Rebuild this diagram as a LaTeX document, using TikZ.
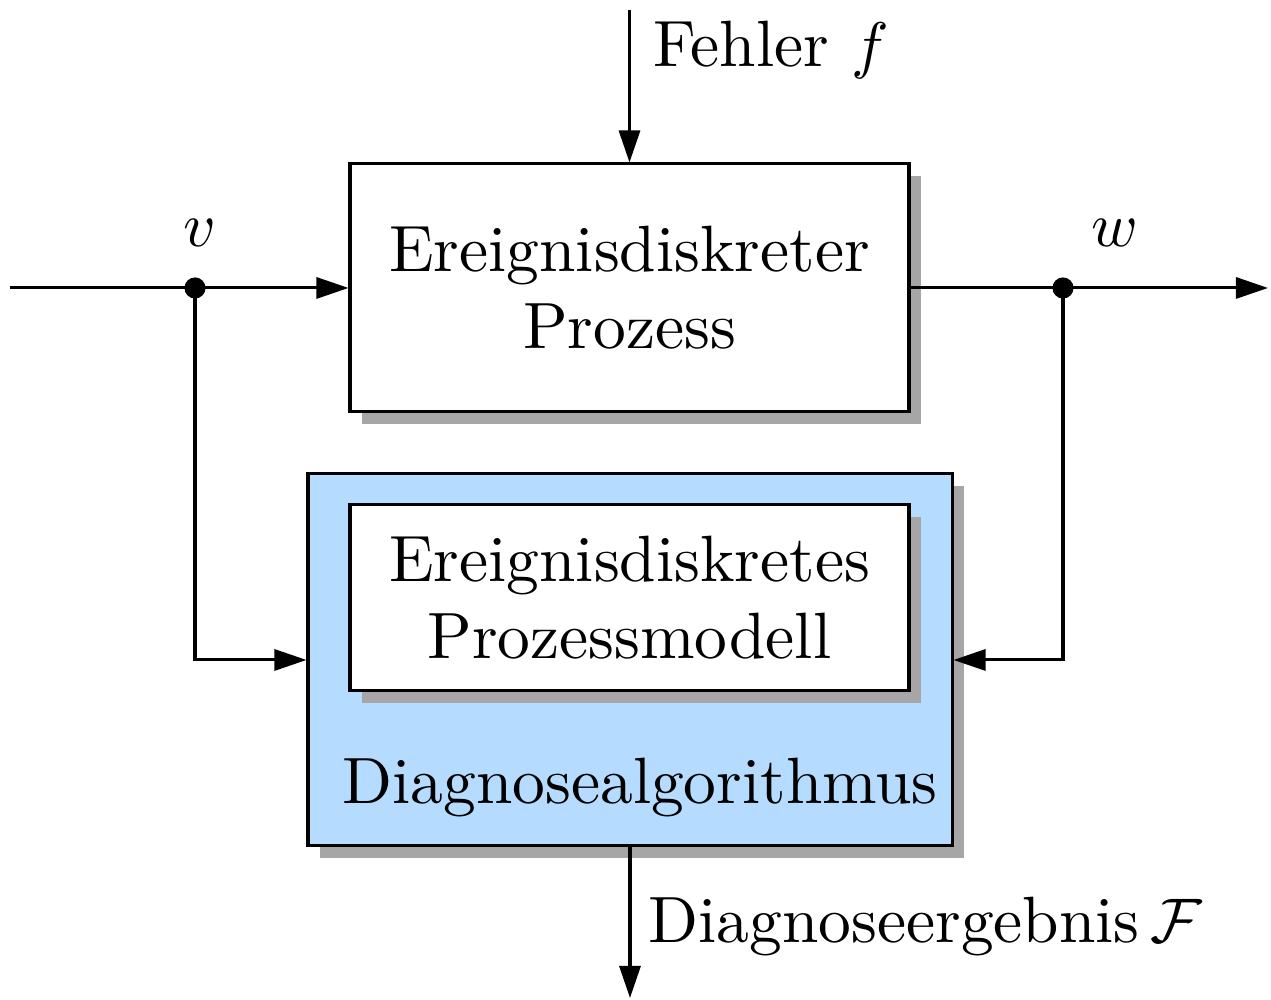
\documentclass[tikz,border=0pt]{standalone}
\usetikzlibrary{arrows.meta,shadows}
\definecolor{boxblue}{HTML}{B5DCFF}
\definecolor{shadowgray}{HTML}{A6A6A6}
\begin{document}
\begin{tikzpicture}[x=0.1588pt,y=-0.1588pt,
  font=\fontsize{10.4}{12.2}\selectfont,
  line width=0.48pt,
  >={Triangle[length=5.1pt,width=3.35pt]},
  block/.style={draw,fill=white,line width=0.48pt,inner sep=0pt,align=center,
    general shadow={fill=shadowgray,shadow xshift=1.9pt,shadow yshift=-1.9pt}},
  junction/.style={circle,fill,inner sep=0pt,minimum size=3.35pt},
  lbl/.style={inner sep=0pt}]
\useasboundingbox (0,0) rectangle (1271,1000);

% blocks
\node[block,minimum width=88.77pt,minimum height=39.38pt] (proc) at (629.5,288)
  {Ereignisdiskreter\\Prozess};
\node[block,fill=boxblue,minimum width=102.27pt,minimum height=59.07pt] (diag) at (630,660) {};
\node[block,minimum width=88.77pt,minimum height=29.54pt] (model) at (629.5,598)
  {Ereignisdiskretes\\Prozessmodell};
\node[lbl,anchor=base west] (alg) at (341,804) {Diagnosealgorithmus};

% signal junctions and free ends
\coordinate (in) at (10,288);
\coordinate (out) at (1268,288);
\coordinate (ftop) at (629.5,10);
\coordinate (fbot) at (630,998);
\node[junction] (v) at (195,288) {};
\node[junction] (w) at (1063,288) {};

% connectors
\draw (in) -- (v.center);
\draw[->] (v.center) -- (proc.west);
\draw (proc.east) -- (w.center);
\draw[->] (w.center) -- (out);
\draw[->] (v.center) |- (diag.west);
\draw[->] (w.center) |- (diag.east);
\draw[->] (ftop) -- (proc.north);
\draw[->] (diag.south) -- (fbot);

% signal labels
\node[lbl,anchor=base] (vl) at (200,247) {$v$};
\node[lbl,anchor=base] (wl) at (1115,247) {$w$};
\node[lbl,anchor=base west] (fl) at (652,67) {Fehler $f$};
\node[lbl,anchor=base west] (rl) at (647,943) {Diagnoseergebnis\,$\mathcal{F}$};
\end{tikzpicture}
\end{document}
